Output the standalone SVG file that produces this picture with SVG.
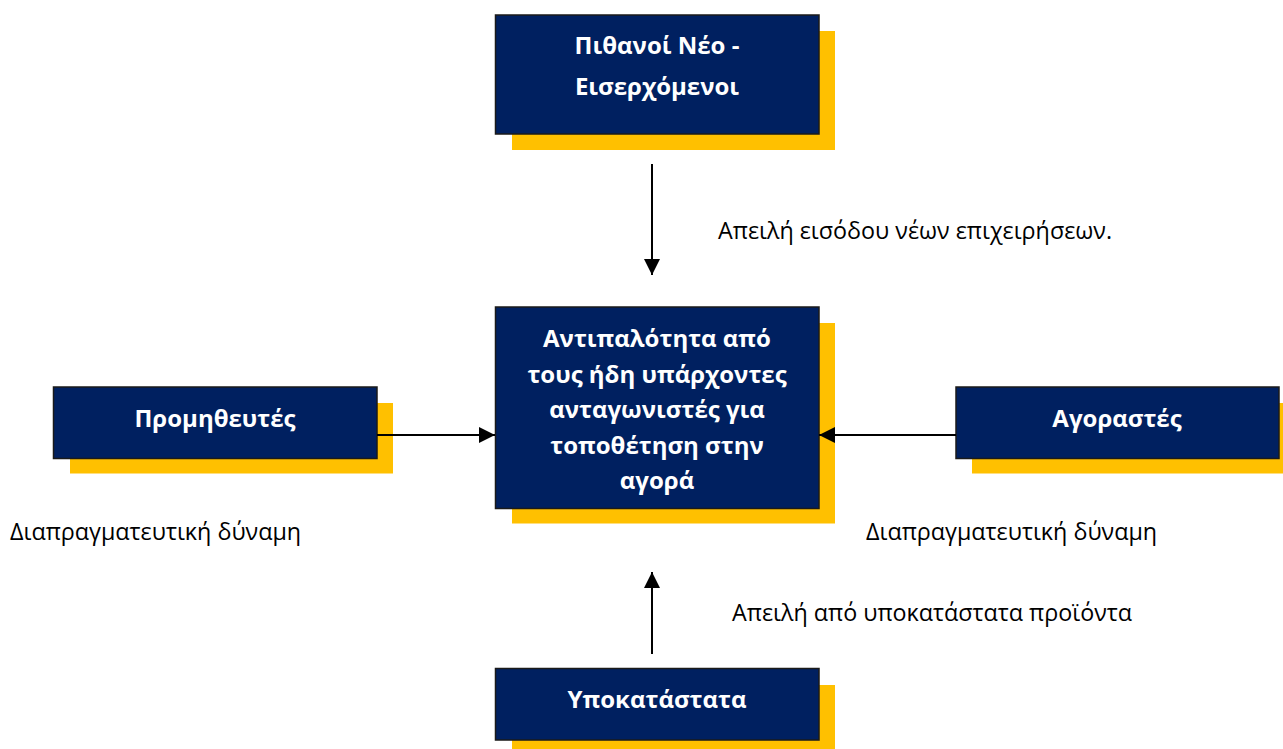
<svg xmlns="http://www.w3.org/2000/svg" width="1283" height="749" viewBox="0 0 1283 749">
  <defs>
    <style>
      .shadow { fill: #FFC000; }
      .box { fill: #002060; stroke: #1a1a1a; stroke-width: 1.5; }
      .title { font-family: "Open Sans", "Liberation Sans", sans-serif; font-weight: bold; font-size: 24px; fill: #ffffff; text-anchor: middle; }
      .label { font-family: "Open Sans", "Liberation Sans", sans-serif; font-size: 23.3px; fill: #000000; }
      .conn { stroke: #000000; stroke-width: 2; fill: none; marker-end: url(#arrow); }
    </style>
    <marker id="arrow" viewBox="0 0 10 10" refX="10" refY="5" markerWidth="16" markerHeight="16" markerUnits="userSpaceOnUse" orient="auto">
      <path d="M0,0 L10,5 L0,10 Z" fill="#000000"/>
    </marker>
  </defs>

  <!-- Potential new entrants -->
  <g id="node-entrants">
    <rect class="shadow" x="512" y="31" width="323" height="119"/>
    <rect class="box" x="495.5" y="15" width="323.5" height="119"/>
    <text class="title" x="657" y="54">Πιθανοί Νέο -</text>
    <text class="title" x="657" y="95">Εισερχόμενοι</text>
  </g>

  <!-- Rivalry among existing competitors -->
  <g id="node-rivalry">
    <rect class="shadow" x="512" y="323" width="323" height="200.5"/>
    <rect class="box" x="495.5" y="307" width="323.5" height="201.5"/>
    <text class="title" x="657" y="347">Αντιπαλότητα από</text>
    <text class="title" x="657" y="383">τους ήδη υπάρχοντες</text>
    <text class="title" x="657" y="418">ανταγωνιστές για</text>
    <text class="title" x="657" y="454">τοποθέτηση στην</text>
    <text class="title" x="657" y="489">αγορά</text>
  </g>

  <!-- Suppliers -->
  <g id="node-suppliers">
    <rect class="shadow" x="70" y="403" width="323" height="70.5"/>
    <rect class="box" x="53.5" y="387" width="323.5" height="71.5"/>
    <text class="title" x="215" y="427">Προμηθευτές</text>
  </g>

  <!-- Buyers -->
  <g id="node-buyers">
    <rect class="shadow" x="972" y="403" width="311" height="70.5"/>
    <rect class="box" x="956" y="387" width="323" height="71.5"/>
    <text class="title" x="1117" y="427">Αγοραστές</text>
  </g>

  <!-- Substitutes -->
  <g id="node-substitutes">
    <rect class="shadow" x="512" y="685" width="323" height="64"/>
    <rect class="box" x="495.5" y="668.5" width="323.5" height="71.5"/>
    <text class="title" x="657" y="708">Υποκατάστατα</text>
  </g>

  <!-- Connectors (drawn above the shadows) -->
  <g id="connectors">
    <line class="conn" x1="652" y1="164" x2="652" y2="275"/>
    <line class="conn" x1="377" y1="435" x2="495" y2="435"/>
    <line class="conn" x1="956" y1="435" x2="819" y2="435"/>
    <line class="conn" x1="652" y1="654" x2="652" y2="572"/>
  </g>

  <!-- Force descriptions -->
  <g id="labels">
    <text class="label" x="718" y="239">Απειλή εισόδου νέων επιχειρήσεων.</text>
    <text class="label" x="10" y="540">Διαπραγματευτική δύναμη</text>
    <text class="label" x="866" y="540">Διαπραγματευτική δύναμη</text>
    <text class="label" x="732" y="621">Απειλή από υποκατάστατα προϊόντα</text>
  </g>
</svg>
